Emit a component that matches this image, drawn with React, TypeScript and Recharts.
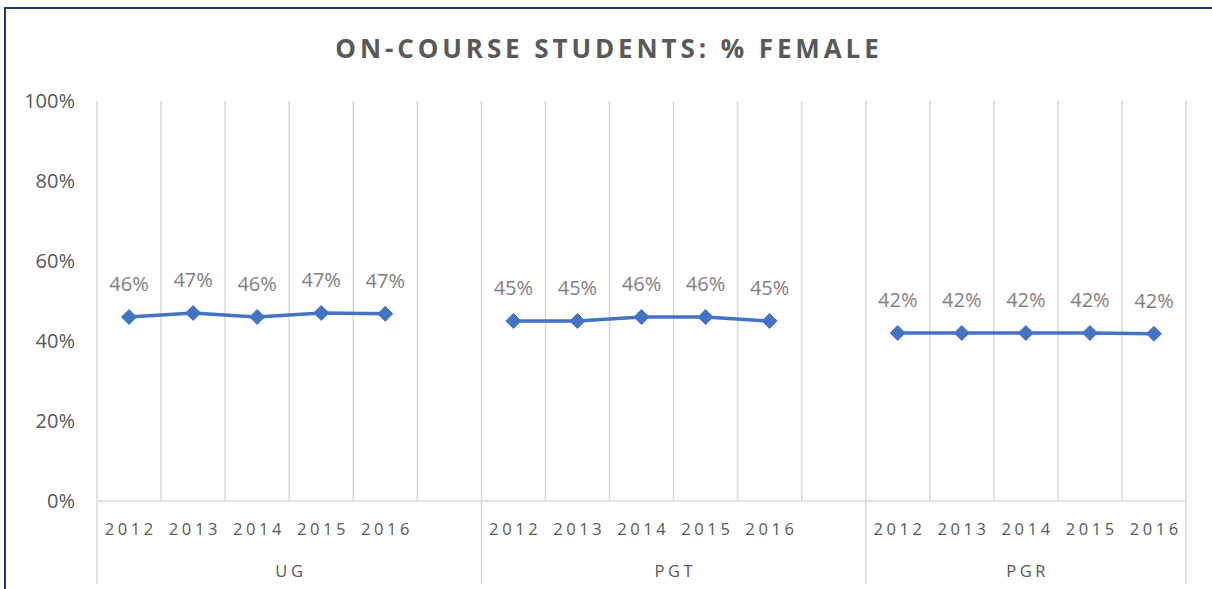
import { LineChart, Line, XAxis, YAxis, CartesianGrid, LabelList } from 'recharts'

const groupNames = ['UG', 'PGT', 'PGR']
const years = ['2012', '2013', '2014', '2015', '2016']
const ugValues = [46, 47, 46, 47, 46.8]
const pgtValues = [45, 45, 46, 46, 45]
const pgrValues = [42, 42, 42, 42, 41.8]
const yTicks = [0, 20, 40, 60, 80, 100]

const seriesByGroup = [ugValues, pgtValues, pgrValues]

// one row per category, with an empty column between groups (Excel style gap)
const rows: { key: string; year: string; group: string; value: number | null }[] = []
groupNames.forEach((g, gi) => {
  years.forEach((y, yi) => {
    rows.push({ key: g + '-' + y, year: y, group: g, value: seriesByGroup[gi][yi] })
  })
  if (gi < groupNames.length - 1) rows.push({ key: g + '-gap', year: '', group: g, value: null })
})

const W = 1212
const H = 589
const LEFT = 97
const RIGHT = 26
const PLOT_W = W - LEFT - RIGHT
const STEP = PLOT_W / rows.length

const GRID = '#d9d9d9'
const TEXT = '#595959'
const BLUE = '#4472C4'
const FONT = '"Open Sans", "Noto Sans", sans-serif'

function Diamond({ cx, cy, value }: { cx?: number; cy?: number; value?: number | null }) {
  if (value == null || cx == null || cy == null) return null
  const r = 7.5
  return (
    <polygon
      points={`${cx},${cy - r} ${cx + r},${cy} ${cx},${cy + r} ${cx - r},${cy}`}
      fill={BLUE}
      stroke={BLUE}
    />
  )
}

// years on the first row, group names and group separators underneath
function CategoryTick({ x, y, payload }: any) {
  const i = payload.index
  const row = rows[i]
  if (!row) return null
  const bottom = y + 83
  const isFirst = i === 0 || rows[i - 1].group !== row.group
  const isLast = i === rows.length - 1
  const labelStyle = { fontFamily: FONT, fontSize: 16.5, letterSpacing: 3.6 }
  return (
    <g>
      {row.year && (
        <text x={x + 1.8} y={y + 34} textAnchor="middle" fill={TEXT} style={labelStyle}>
          {row.year}
        </text>
      )}
      {isFirst && (
        <>
          <line x1={x - STEP / 2} x2={x - STEP / 2} y1={y} y2={bottom} stroke={GRID} strokeWidth={1.5} />
          <text
            x={x - STEP / 2 + (rows.filter(r => r.group === row.group).length * STEP) / 2 + 1.8}
            y={y + 76}
            textAnchor="middle"
            fill={TEXT}
            style={labelStyle}
          >
            {row.group}
          </text>
        </>
      )}
      {isLast && (
        <line x1={x + STEP / 2} x2={x + STEP / 2} y1={y} y2={bottom} stroke={GRID} strokeWidth={1.5} />
      )}
    </g>
  )
}

export default function App() {
  return (
    <div style={{ position: 'absolute', left: 0, top: 0, width: W, height: H, background: '#fff', overflow: 'hidden' }}>
      <div
        style={{
          position: 'absolute', left: 4, top: 7, width: W, height: H,
          borderLeft: '2px solid #203864', borderTop: '2px solid #203864',
          pointerEvents: 'none',
        }}
      />
      <div
        style={{
          position: 'absolute', left: 0, top: 30, width: W + 6, textAlign: 'center',
          fontFamily: FONT, fontWeight: 700, fontSize: 26, letterSpacing: 3.9, color: TEXT,
        }}
      >
        ON-COURSE STUDENTS: % FEMALE
      </div>
      <LineChart
        width={W}
        height={H}
        data={rows}
        margin={{ top: 101, right: RIGHT, bottom: 0, left: 0 }}
      >
        <CartesianGrid
          horizontal={false}
          stroke={GRID}
          strokeWidth={1.5}
          verticalCoordinatesGenerator={({ offset }: any) =>
            Array.from({ length: rows.length + 1 }, (_, i) => offset.left + (i * offset.width) / rows.length)
          }
        />
        <XAxis
          dataKey="key"
          interval={0}
          height={88}
          padding={{ left: STEP / 2, right: STEP / 2 }}
          axisLine={{ stroke: GRID, strokeWidth: 1.5 }}
          tickLine={false}
          tickSize={0}
          tickMargin={0}
          tick={<CategoryTick />}
        />
        <YAxis
          width={LEFT}
          domain={[0, 100]}
          ticks={yTicks}
          axisLine={false}
          tickLine={false}
          tickSize={0}
          tickMargin={22}
          tickFormatter={(v: number) => v + '%'}
          tick={{ fill: TEXT, fontSize: 20, fontFamily: FONT }}
        />
        <Line
          dataKey="value"
          stroke={BLUE}
          strokeWidth={3.5}
          dot={<Diamond />}
          activeDot={false}
          connectNulls={false}
          isAnimationActive={false}
        >
          <LabelList
            dataKey="value"
            position="top"
            offset={26}
            fill="#7f7f7f"
            style={{ fontFamily: FONT, fontSize: 20 }}
            formatter={(v: any) => (v == null ? '' : Math.round(v) + '%')}
          />
        </Line>
      </LineChart>
    </div>
  )
}
